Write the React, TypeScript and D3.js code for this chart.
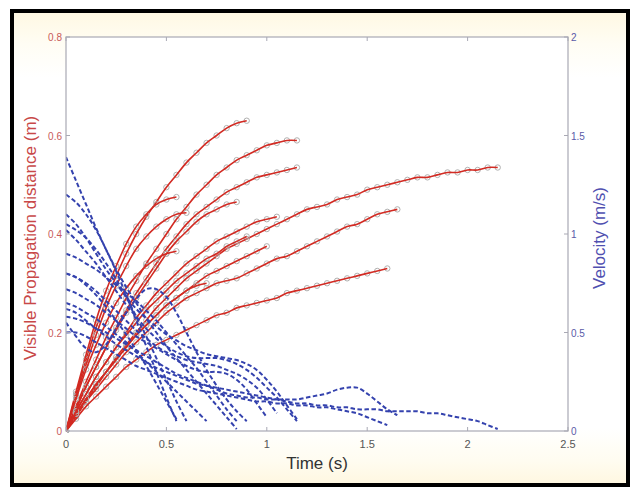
import React from "react";
import * as d3 from "d3";

// sampling times of the tracked frames (s)
const TIMES = [0, 0.05, 0.1, 0.15, 0.2, 0.25, 0.3, 0.35, 0.4, 0.45, 0.5, 0.55, 0.6, 0.65, 0.7, 0.75,
  0.8, 0.85, 0.9, 0.95, 1.0, 1.05, 1.1, 1.15, 1.2, 1.25, 1.3, 1.35, 1.4, 1.45, 1.5, 1.55, 1.6,
  1.65, 1.7, 1.75, 1.8, 1.85, 1.9, 1.95, 2.0, 2.05, 2.1, 2.15];

// visible propagation distance (m), one array per run
const distA = [0, .075, .145, .21, .265, .315, .36, .40, .435, .465, .495, .52, .545, .565, .585, .60, .615, .625, .63];
const distB = [0, .05, .10, .145, .19, .23, .27, .305, .34, .37, .40, .43, .455, .48, .50, .52, .535, .55, .56, .57, .58, .585, .59, .59];
const distC = [0, .045, .09, .13, .17, .21, .245, .28, .31, .34, .37, .395, .42, .44, .455, .47, .485, .495, .505, .515, .52, .525, .53, .535];
const distD = [0, .03, .06, .09, .12, .15, .175, .20, .225, .25, .27, .29, .31, .325, .34, .355, .37, .38, .39, .40, .41, .42,
  .43, .44, .45, .455, .46, .47, .475, .48, .49, .495, .50, .505, .51, .515, .515, .52, .525, .525, .53, .53, .535, .535];
const distE = [0, .03, .06, .085, .11, .135, .16, .18, .20, .22, .24, .255, .27, .28, .29, .30, .305, .31, .32, .33, .34, .35,
  .355, .365, .375, .385, .395, .405, .415, .42, .43, .44, .445, .45];
const distF = [0, .025, .05, .07, .09, .11, .13, .145, .16, .175, .185, .195, .205, .215, .225, .235, .24, .25, .255, .26, .265,
  .27, .28, .285, .29, .295, .30, .305, .31, .315, .32, .325, .33];
const distG = [0, .08, .155, .225, .285, .335, .38, .415, .44, .46, .47, .475];
const distH = [0, .07, .135, .195, .25, .295, .335, .37, .395, .415, .43, .44, .443];
const distI = [0, .045, .09, .13, .17, .205, .24, .27, .30, .33, .36, .385, .405, .425, .44, .45, .46, .465];
const distJ = [0, .04, .075, .11, .14, .17, .20, .23, .255, .28, .30, .32, .34, .355, .37, .385, .395, .405, .415, .425, .43, .435];
const distK = [0, .035, .065, .095, .12, .145, .17, .195, .215, .235, .255, .27, .285, .30, .315, .325, .335, .345, .355, .365, .375];
const distL = [0, .035, .065, .095, .12, .145, .17, .195, .215, .235, .255, .27, .285, .295, .30];
const distM = [0, .065, .125, .175, .22, .26, .29, .315, .335, .35, .36, .365];
const distN = [0, .04, .075, .11, .14, .17, .195, .22, .245, .265, .285, .305, .32, .335, .35, .36, .375, .385, .395];

// front velocity (m/s), one array per run
const velA = [1.39, 1.27, 1.15, 1.03, 0.92, 0.82, 0.73, 0.65, 0.57, 0.50, 0.43, 0.37, 0.31, 0.25, 0.19, 0.13, 0.07, 0.01];
const velB = [1.10, 1.05, 0.98, 0.90, 0.82, 0.75, 0.68, 0.62, 0.57, 0.53, 0.49, 0.46, 0.43, 0.41, 0.39, 0.38, 0.37, 0.36, 0.34, 0.31, 0.26, 0.20, 0.13, 0.06];
const velC = [1.02, 0.97, 0.91, 0.85, 0.78, 0.71, 0.64, 0.58, 0.52, 0.47, 0.43, 0.40, 0.38, 0.37, 0.37, 0.37, 0.36, 0.34, 0.31, 0.27, 0.22, 0.17, 0.11, 0.05];
const velD = [0.62, 0.60, 0.56, 0.52, 0.48, 0.44, 0.41, 0.38, 0.35, 0.32, 0.30, 0.28, 0.26, 0.24, 0.23, 0.22, 0.21, 0.20, 0.19, 0.18, 0.17, 0.16,
  0.15, 0.14, 0.14, 0.13, 0.13, 0.12, 0.12, 0.11, 0.11, 0.11, 0.10, 0.10, 0.10, 0.10, 0.09, 0.09, 0.08, 0.07, 0.06, 0.05, 0.03, 0.01];
const velE = [0.58, 0.57, 0.55, 0.52, 0.50, 0.47, 0.44, 0.41, 0.38, 0.35, 0.32, 0.29, 0.27, 0.25, 0.23, 0.21, 0.19, 0.18, 0.17, 0.17, 0.16,
  0.16, 0.16, 0.16, 0.17, 0.18, 0.19, 0.21, 0.22, 0.22, 0.19, 0.15, 0.11, 0.08];
const velF = [0.50, 0.50, 0.48, 0.45, 0.42, 0.39, 0.36, 0.33, 0.31, 0.29, 0.27, 0.25, 0.23, 0.21, 0.20, 0.19, 0.18, 0.17, 0.16, 0.15, 0.15,
  0.14, 0.14, 0.13, 0.13, 0.12, 0.12, 0.11, 0.10, 0.09, 0.07, 0.05, 0.03];
const velG = [1.20, 1.16, 1.10, 1.02, 0.92, 0.81, 0.69, 0.56, 0.43, 0.30, 0.17, 0.05];
const velH = [1.05, 1.02, 0.98, 0.92, 0.85, 0.77, 0.68, 0.58, 0.48, 0.37, 0.26, 0.15, 0.05];
const velI = [0.90, 0.88, 0.85, 0.82, 0.78, 0.74, 0.70, 0.66, 0.61, 0.56, 0.50, 0.44, 0.38, 0.32, 0.25, 0.18, 0.11, 0.05];
const velJ = [0.80, 0.78, 0.75, 0.71, 0.66, 0.61, 0.56, 0.51, 0.47, 0.43, 0.40, 0.38, 0.36, 0.35, 0.34, 0.33, 0.31, 0.29, 0.26, 0.22, 0.16, 0.09];
const velK = [0.72, 0.70, 0.67, 0.64, 0.60, 0.56, 0.52, 0.48, 0.45, 0.42, 0.39, 0.36, 0.33, 0.31, 0.30, 0.30, 0.29, 0.26, 0.21, 0.14, 0.07];
const velL = [0.65, 0.63, 0.60, 0.57, 0.53, 0.49, 0.45, 0.40, 0.35, 0.30, 0.25, 0.20, 0.15, 0.10, 0.05];
const velM = [0.80, 0.78, 0.74, 0.69, 0.63, 0.56, 0.49, 0.41, 0.33, 0.24, 0.15, 0.06];
const velN = [0.55, 0.48, 0.42, 0.40, 0.44, 0.52, 0.60, 0.67, 0.72, 0.72, 0.68, 0.60, 0.50, 0.40, 0.31, 0.23, 0.16, 0.10, 0.05];

const distanceRuns = [distA, distB, distC, distD, distE, distF, distG, distH, distI, distJ, distK, distL, distM, distN];
const velocityRuns = [velA, velB, velC, velD, velE, velF, velG, velH, velI, velJ, velK, velL, velM, velN];

const xTicks = [0, 0.5, 1, 1.5, 2, 2.5];
const xTickLabels = ["0", "0.5", "1", "1.5", "2", "2.5"];
const leftTicks = [0, 0.2, 0.4, 0.6, 0.8];
const leftTickLabels = ["0", "0.2", "0.4", "0.6", "0.8"];
const rightTicks = [0, 0.5, 1, 1.5, 2];
const rightTickLabels = ["0", "0.5", "1", "1.5", "2"];

const W = 630, H = 487;
const plot = { left: 66, right: 568, top: 37, bottom: 431 };

export default function App() {
  const x = d3.scaleLinear().domain([0, 2.5]).range([plot.left, plot.right]);
  const yL = d3.scaleLinear().domain([0, 0.8]).range([plot.bottom, plot.top]);
  const yR = d3.scaleLinear().domain([0, 2]).range([plot.bottom, plot.top]);

  const distLine = d3.line<number>()
    .x((d, i) => x(TIMES[i]))
    .y(d => yL(d))
    .curve(d3.curveCatmullRom);
  const velLine = d3.line<number>()
    .x((d, i) => x(TIMES[i]))
    .y(d => yR(d))
    .curve(d3.curveCatmullRom);

  const axisColor = "#a9a9b4";
  const font = "Arial, 'Liberation Sans', sans-serif";

  return (
    <svg width={W} height={H} style={{ position: "absolute", left: 0, top: 0 }} fontFamily={font}>
      <defs>
        <linearGradient id="paper" x1="0" y1="0" x2="0" y2="1">
          <stop offset="0%" stopColor="#fff8e2" />
          <stop offset="7%" stopColor="#fffdf4" />
          <stop offset="14%" stopColor="#ffffff" />
          <stop offset="88%" stopColor="#ffffff" />
          <stop offset="95%" stopColor="#fffcf0" />
          <stop offset="100%" stopColor="#fff7e0" />
        </linearGradient>
        <clipPath id="plotClip">
          <rect x={plot.left} y={plot.top - 2} width={plot.right - plot.left} height={plot.bottom - plot.top + 4} />
        </clipPath>
      </defs>
      <rect x={0} y={0} width={W} height={H} fill="#ffffff" />
      <rect x={12} y={11} width={616} height={474} fill="url(#paper)" stroke="#000" strokeWidth={4} />
      <rect x={plot.left} y={plot.top} width={plot.right - plot.left} height={plot.bottom - plot.top} fill="#ffffff" />

      <g clipPath="url(#plotClip)">
        {distanceRuns.map((run, k) => (
          <g key={"d" + k}>
            {run.map((d, i) => (
              <circle key={i} cx={x(TIMES[i])} cy={yL(d)} r={2.7} fill="none" stroke="#b0b0b0" strokeWidth={1} />
            ))}
            <path d={distLine(run) || ""} fill="none" stroke="#d22a22" strokeWidth={1.6} />
          </g>
        ))}
        {velocityRuns.map((run, k) => (
          <path key={"v" + k} d={velLine(run) || ""} fill="none" stroke="#3442ae"
            strokeWidth={2} strokeDasharray="4.5,2.5" />
        ))}
      </g>

      {/* box */}
      <rect x={plot.left} y={plot.top} width={plot.right - plot.left} height={plot.bottom - plot.top}
        fill="none" stroke={axisColor} strokeWidth={1.2} />

      {xTicks.map((t, i) => (
        <g key={"xt" + i}>
          <line x1={x(t)} x2={x(t)} y1={plot.bottom} y2={plot.bottom - 4} stroke={axisColor} />
          <line x1={x(t)} x2={x(t)} y1={plot.top} y2={plot.top + 4} stroke={axisColor} />
          <text x={x(t)} y={plot.bottom + 17} textAnchor="middle" fontSize={11} fill="#555">{xTickLabels[i]}</text>
        </g>
      ))}
      {leftTicks.map((t, i) => (
        <g key={"lt" + i}>
          <line x1={plot.left} x2={plot.left + 4} y1={yL(t)} y2={yL(t)} stroke={axisColor} />
          <text x={plot.left - 4} y={yL(t) + 4} textAnchor="end" fontSize={10} fill="#c85a5a">{leftTickLabels[i]}</text>
        </g>
      ))}
      {rightTicks.map((t, i) => (
        <g key={"rt" + i}>
          <line x1={plot.right - 4} x2={plot.right} y1={yR(t)} y2={yR(t)} stroke={axisColor} />
          <text x={plot.right + 3} y={yR(t) + 4} textAnchor="start" fontSize={10} fill="#5a5aa8">{rightTickLabels[i]}</text>
        </g>
      ))}

      <text x={(plot.left + plot.right) / 2} y={469} textAnchor="middle" fontSize={17} fill="#333">Time (s)</text>
      <text transform={`translate(36, ${(plot.top + plot.bottom) / 2 + 4}) rotate(-90)`} textAnchor="middle"
        fontSize={17} fill="#c84848">Visible Propagation distance (m)</text>
      <text transform={`translate(605, ${(plot.top + plot.bottom) / 2 + 4}) rotate(-90)`} textAnchor="middle"
        fontSize={17} fill="#5050b0">Velocity (m/s)</text>
    </svg>
  );
}
